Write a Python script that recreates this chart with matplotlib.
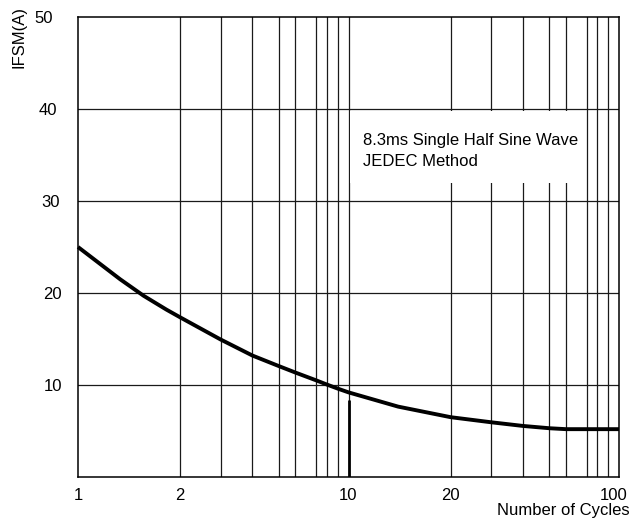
import numpy as np
import matplotlib
matplotlib.use("Agg")
import matplotlib.pyplot as plt
from matplotlib.patches import Rectangle
from matplotlib.transforms import ScaledTranslation

plt.rcParams['font.family'] = ['Liberation Sans', 'DejaVu Sans']

# ---- data ----
cycles = [1, 1.33, 1.56, 1.82, 2, 3, 4, 5, 6, 7, 8, 9, 10, 14,
          20, 30, 40, 50, 60, 70, 80, 90, 100]
ifsm = [25.0, 21.5, 19.7, 18.2, 17.35, 14.95, 13.2, 12.05, 11.35, 10.5, 10.05,
        9.6, 9.2, 7.65, 6.5, 5.95, 5.55, 5.3, 5.2, 5.2, 5.2, 5.2, 5.2]

x_grid = [2, 3, 4, 5, 6, 7, 8, 9, 10, 20, 30, 40, 50, 60, 70, 80, 90]
x_ticks = [1, 2, 10, 20, 100]
x_ticklabels = ['1', '2', '10', '20', '100']
y_ticks = [10, 20, 30, 40, 50]
y_ticklabels = ['10', '20', '30', '40', '50']
y_grid = [10, 20, 30, 40]

# chart's own (hand-drawn) spacing of the log decade
decade_frac = [0, 0.378, 0.527, 0.645, 0.743, 0.804, 0.881, 0.920, 0.961, 1.0]
kl = [-1.0]
kp = [-1.0]
for d in range(2):
    for m, f in zip(range(1, 10), decade_frac[:-1]):
        kl.append(d + np.log10(m))
        kp.append(d + f)
kl += [2.0, 3.0]
kp += [2.0, 3.0]
kl = np.array(kl)
kp = np.array(kp)


def fwd(x):
    x = np.asarray(x, dtype=float)
    return np.interp(np.log10(np.clip(x, 1e-3, None)), kl, kp)


def inv(p):
    return 10 ** np.interp(np.asarray(p, dtype=float), kp, kl)


fig = plt.figure(figsize=(6.34, 5.23), dpi=100)
ax = fig.add_axes([78 / 634, 1 - 477 / 523, 541 / 634, 460 / 523])
ax.set_xscale('function', functions=(fwd, inv))
ax.set_xlim(1, 100)
ax.set_ylim(0, 50)

for xv in x_grid:
    ax.axvline(xv, color='#1a1a1a', lw=0.9, zorder=1)
for yv in y_grid:
    ax.axhline(yv, color='#1a1a1a', lw=0.9, zorder=1)
# heavier segment of the 10-cycle line below the curve
ax.plot([10, 10], [0, 8.4], color='black', lw=2.0, zorder=1.5,
        solid_capstyle='butt')

ax.add_patch(Rectangle((0.5035, 0.639), 0.433, 0.1575, transform=ax.transAxes,
                       facecolor='white', edgecolor='none', zorder=2))
ax.text(0.527, 0.7217, '8.3ms Single Half Sine Wave', transform=ax.transAxes,
        fontsize=12, va='baseline', ha='left', zorder=3)
ax.text(0.527, 0.676, 'JEDEC Method', transform=ax.transAxes,
        fontsize=12, va='baseline', ha='left', zorder=3)

ax.plot(cycles, ifsm, color='black', lw=2.8, solid_joinstyle='round',
        solid_capstyle='butt', zorder=4, clip_on=False)

ax.set_xticks(x_ticks)
ax.set_xticklabels(x_ticklabels)
ax.set_xticks([], minor=True)
ax.set_yticks(y_ticks)
ax.set_yticklabels(y_ticklabels)
ax.tick_params(axis='both', length=0, labelsize=12)
ax.tick_params(axis='x', pad=8)
ax.tick_params(axis='y', pad=11)

# per-label shifts of the y labels (they drift left going up)
shifts = {'20': -1, '30': -3, '40': -6, '50': -10}
for lab in ax.get_yticklabels():
    dx = shifts.get(lab.get_text(), 0)
    if dx:
        lab.set_transform(lab.get_transform() +
                          ScaledTranslation(dx / 100, 0, fig.dpi_scale_trans))
for lab in ax.get_xticklabels():
    if lab.get_text() == '100':
        lab.set_transform(lab.get_transform() +
                          ScaledTranslation(-5 / 100, 0, fig.dpi_scale_trans))

for s in ax.spines.values():
    s.set_linewidth(1.1)
    s.set_color('black')
    s.set_zorder(5)

fig.text(18.5 / 634, 1 - 37.5 / 523, 'IFSM(A)', rotation=90, fontsize=12,
         ha='center', va='center')
fig.text(630 / 634, 1 - 511 / 523, 'Number of Cycles', fontsize=12,
         ha='right', va='center')

fig.savefig('out.png', dpi=100, facecolor='white')
